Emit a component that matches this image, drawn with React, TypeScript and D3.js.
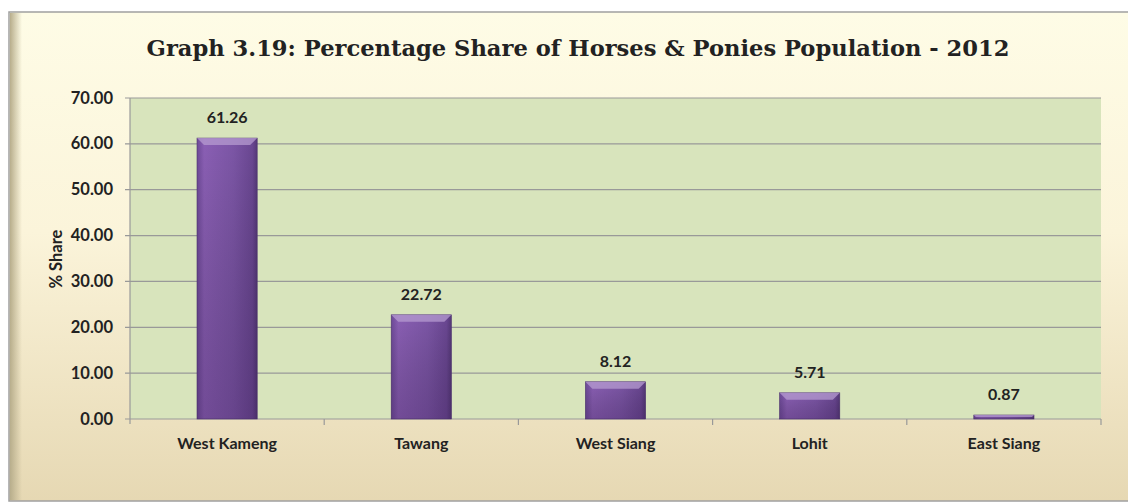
import React from "react";
import * as d3 from "d3";

const categories = ["West Kameng", "Tawang", "West Siang", "Lohit", "East Siang"];
const shares = [61.26, 22.72, 8.12, 5.71, 0.87];
const yTicks = [0, 10, 20, 30, 40, 50, 60, 70];
const title = "Graph 3.19: Percentage Share of Horses & Ponies Population - 2012";
const yTitle = "% Share";

export default function App() {
  const W = 1128, H = 504;
  const plot = { left: 130, right: 1101, top: 98, bottom: 419 };
  const x = d3.scaleBand().domain(categories).range([plot.left, plot.right]).paddingInner(0.69).paddingOuter(0.345);
  const xb = d3.scaleBand().domain(categories).range([plot.left, plot.right]);
  const y = d3.scaleLinear().domain([0, 70]).range([plot.bottom, plot.top]);
  const font = "Lato, 'Open Sans', sans-serif";
  return (
    <div style={{ position: "absolute", left: 0, top: 0 }}>
      <svg width={W} height={H} style={{ display: "block" }}>
        <defs>
          <linearGradient id="bg" x1="0" y1="0" x2="0" y2="1">
            <stop offset="0" stopColor="#fefce6" />
            <stop offset="0.45" stopColor="#fbf4da" />
            <stop offset="1" stopColor="#e6d8b3" />
          </linearGradient>
          <linearGradient id="leftEdge" x1="0" y1="0" x2="1" y2="0">
            <stop offset="0" stopColor="#b8ae8c" />
            <stop offset="1" stopColor="#b8ae8c" stopOpacity="0" />
          </linearGradient>
          <linearGradient id="bar" x1="0" y1="0" x2="1" y2="0">
            <stop offset="0" stopColor="#6e4a98" />
            <stop offset="0.12" stopColor="#8a5fb4" />
            <stop offset="0.6" stopColor="#7c56a6" />
            <stop offset="0.92" stopColor="#6a4792" />
            <stop offset="1" stopColor="#553878" />
          </linearGradient>
          <linearGradient id="barV" x1="0" y1="0" x2="0" y2="1">
            <stop offset="0" stopColor="#000" stopOpacity="0" />
            <stop offset="1" stopColor="#2a1040" stopOpacity="0.25" />
          </linearGradient>
        </defs>
        <rect x={9} y={12} width={1130} height={489} fill="url(#bg)" stroke="#a0a0a0" strokeWidth={1.5} />
        <rect x={10} y={13} width={12} height={487} fill="url(#leftEdge)" />
        <text x={578} y={56} textAnchor="middle" fontFamily="'DejaVu Serif', 'Liberation Serif', serif" fontWeight="bold" fontSize={22.6} fill="#222">{title}</text>
        <rect x={plot.left} y={plot.top} width={plot.right - plot.left} height={plot.bottom - plot.top} fill="#d8e4bc" />
        {yTicks.map(t => (
          <g key={t}>
            <line x1={125} x2={plot.right} y1={y(t)} y2={y(t)} stroke="#999" strokeWidth={1.2} />
            <text x={113} y={y(t) + 5.5} textAnchor="end" fontFamily={font} fontWeight="bold" fontSize={16.5} fill="#222">{t.toFixed(2)}</text>
          </g>
        ))}
        <line x1={plot.left} x2={plot.left} y1={plot.top} y2={plot.bottom + 5} stroke="#999" strokeWidth={1.2} />
        {categories.map((c) => (
          <line key={c} x1={xb(c)! + xb.bandwidth()} x2={xb(c)! + xb.bandwidth()} y1={plot.bottom} y2={plot.bottom + 6} stroke="#999" strokeWidth={1.2} />
        ))}
        {categories.map((c, i) => {
          const bx = x(c)!, bw = x.bandwidth(), by = y(shares[i]), bh = y(0) - y(shares[i]);
          const bev = Math.min(7, bh / 2);
          return (
            <g key={c}>
              <rect x={bx} y={by} width={bw} height={bh} fill="url(#bar)" stroke="#4e3470" strokeWidth={0.6} />
              <rect x={bx} y={by} width={bw} height={bh} fill="url(#barV)" />
              <path d={`M${bx},${by} L${bx + bw},${by} L${bx + bw - bev},${by + bev} L${bx + bev},${by + bev} Z`} fill="#b69bd0" opacity={0.75} />
              <text x={bx + bw / 2} y={by - 15} textAnchor="middle" fontFamily={font} fontWeight="bold" fontSize={16} fill="#222">{shares[i].toFixed(2)}</text>
              <text x={xb(c)! + xb.bandwidth() / 2} y={449} textAnchor="middle" fontFamily={font} fontWeight="bold" fontSize={16} fill="#222">{c}</text>
            </g>
          );
        })}
        <text transform={`translate(62,${259}) rotate(-90)`} textAnchor="middle" fontFamily={font} fontWeight="bold" fontSize={16.5} fill="#222">{yTitle}</text>
      </svg>
    </div>
  );
}
